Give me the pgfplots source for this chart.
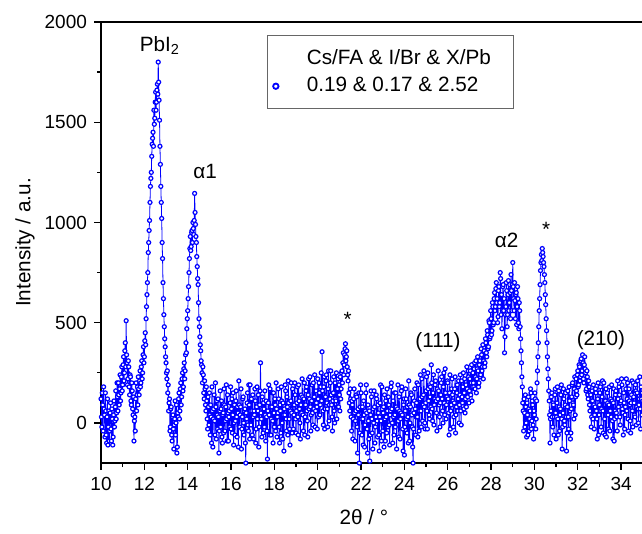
\documentclass[border=0pt]{standalone}
\usepackage{pgfplots}
\pgfplotsset{compat=1.18}
\usepackage{fontspec}
\setmainfont{Liberation Sans}
\newcommand{\lbl}{\fontsize{10.35}{12}\selectfont}
\newcommand{\tkf}{\fontsize{9.5}{11}\selectfont}
\begin{document}
\begin{tikzpicture}
\begin{axis}[
  name=ax,
  scale only axis,
  width=270.85pt, height=220.5pt,
  xmin=10, xmax=35, ymin=-200, ymax=2000,
  xtick={10,12,...,34}, ytick={0,500,...,2000},
  minor x tick num=1, minor y tick num=1,
  tick align=outside, xtick pos=bottom, ytick pos=left,
  major tick length=3.5pt, minor tick length=2pt,
  every tick/.style={black, line width=0.65pt},
  axis line style={line width=0.7pt},
  tick label style={font=\tkf},
  /pgf/number format/assume math mode=true,
  /pgf/number format/1000 sep={},
  xlabel={2θ / °}, ylabel={Intensity / a.u.},
  label style={font=\lbl},
  xlabel style={at={(axis description cs:0.485,-0.1224)}, anchor=center},
  ylabel style={at={(axis description cs:-0.1403,0.5)}, anchor=center},
  legend cell align=left,
  legend image code/.code={\path[draw=none,fill=none] (0pt,-2pt) rectangle (8pt,2pt); \draw[#1] plot coordinates {(4pt,0pt)};},
  legend style={at={(axis description cs:0.307,0.9705)}, anchor=north west,
    draw=black!60, line width=0.5pt, font=\lbl, inner xsep=0pt, inner ysep=5pt,
    row sep=1pt, /tikz/every odd column/.append style={column sep=9.5pt}},
]
\addlegendimage{empty legend}
\addlegendentry{Cs/FA \& I/Br \& X/Pb\hspace{9.5pt}\null}
\addplot[blue, line width=0.4pt, mark=*, mark size=1.0pt, forget plot,
  mark options={draw=blue, fill=white, line width=0.6pt}] coordinates {
(10.00,120) (10.02,30) (10.04,-20) (10.06,150) (10.08,90) (10.10,-40) (10.12,180) (10.14,70) (10.16,40) (10.18,-70)
(10.20,150) (10.22,60) (10.24,-60) (10.26,-100) (10.28,30) (10.30,120) (10.32,-110) (10.34,-20) (10.36,60) (10.38,-90)
(10.40,-40) (10.42,50) (10.44,100) (10.46,-30) (10.48,-90) (10.50,70) (10.52,20) (10.54,-110) (10.56,-70) (10.58,40)
(10.60,110) (10.62,-20) (10.64,10) (10.66,80) (10.68,160) (10.70,20) (10.72,50) (10.74,200) (10.76,130) (10.78,60)
(10.80,200) (10.82,140) (10.84,90) (10.86,170) (10.88,240) (10.90,110) (10.92,150) (10.94,230) (10.96,280) (10.98,160)
(11.00,190) (11.02,290) (11.04,330) (11.06,210) (11.08,250) (11.10,360) (11.12,400) (11.14,280) (11.16,510) (11.18,340)
(11.20,300) (11.22,190) (11.24,220) (11.26,310) (11.28,280) (11.30,180) (11.32,140) (11.34,240) (11.36,230) (11.38,110)
(11.40,90) (11.42,200) (11.44,160) (11.46,70) (11.48,40) (11.50,130) (11.52,-90) (11.54,10) (11.56,30) (11.58,-40)
(11.60,120) (11.62,200) (11.64,60) (11.66,140) (11.68,180) (11.70,90) (11.72,230) (11.74,170) (11.76,140) (11.78,210)
(11.80,260) (11.82,180) (11.84,200) (11.86,280) (11.88,310) (11.90,220) (11.92,250) (11.94,340) (11.96,380) (11.98,300)
(12.00,330) (12.02,410) (12.04,450) (12.06,390) (12.08,520) (12.10,580) (12.12,640) (12.14,700) (12.16,750) (12.18,850)
(12.20,900) (12.22,960) (12.24,1010) (12.26,1100) (12.28,1180) (12.30,1220) (12.32,1250) (12.34,1330) (12.36,1390) (12.38,1420)
(12.40,1450) (12.42,1380) (12.44,1560) (12.46,1490) (12.48,1520) (12.50,1600) (12.52,1650) (12.54,1560) (12.56,1600) (12.58,1660)
(12.60,1690) (12.62,1640) (12.64,1800) (12.66,1700) (12.68,1610) (12.70,1510) (12.72,1380) (12.74,1290) (12.76,1180) (12.78,1100)
(12.80,1020) (12.82,900) (12.84,820) (12.86,700) (12.88,620) (12.90,540) (12.92,480) (12.94,420) (12.96,380) (12.98,330)
(13.00,300) (13.02,250) (13.04,220) (13.06,260) (13.08,150) (13.10,190) (13.12,60) (13.14,100) (13.16,120) (13.18,-40)
(13.20,-20) (13.22,70) (13.24,80) (13.26,-60) (13.28,-90) (13.30,30) (13.32,40) (13.34,-30) (13.36,-130) (13.38,-10)
(13.40,20) (13.42,110) (13.44,-60) (13.46,0) (13.48,90) (13.50,-150) (13.52,-120) (13.54,50) (13.56,30) (13.58,120)
(13.60,150) (13.62,20) (13.64,60) (13.66,170) (13.68,200) (13.70,90) (13.72,130) (13.74,220) (13.76,250) (13.78,160)
(13.80,180) (13.82,270) (13.84,300) (13.86,220) (13.88,260) (13.90,340) (13.92,400) (13.94,350) (13.96,470) (13.98,520)
(14.00,560) (14.02,620) (14.04,680) (14.06,750) (14.08,820) (14.10,870) (14.12,930) (14.14,860) (14.16,880) (14.18,950)
(14.20,960) (14.22,900) (14.24,1000) (14.26,970) (14.28,940) (14.30,1010) (14.32,1145) (14.34,1050) (14.36,990) (14.38,930)
(14.40,900) (14.42,830) (14.44,780) (14.46,720) (14.48,690) (14.50,600) (14.52,520) (14.54,480) (14.56,430) (14.58,390)
(14.60,360) (14.62,310) (14.64,290) (14.66,250) (14.68,200) (14.70,280) (14.72,240) (14.74,150) (14.76,120) (14.78,210)
(14.80,170) (14.82,90) (14.84,60) (14.86,180) (14.88,110) (14.90,20) (14.92,-30) (14.94,130) (14.96,80) (14.98,-10)
(15.00,150) (15.02,40) (15.04,-60) (15.06,90) (15.08,30) (15.10,-100) (15.12,180) (15.14,60) (15.16,-120) (15.18,20)
(15.20,70) (15.22,140) (15.24,10) (15.26,-60) (15.28,200) (15.30,80) (15.32,-80) (15.34,110) (15.36,40) (15.38,-30)
(15.40,120) (15.42,30) (15.44,-150) (15.46,-40) (15.48,60) (15.50,160) (15.52,-20) (15.54,70) (15.56,110) (15.58,-70)
(15.60,-100) (15.62,40) (15.64,50) (15.66,-50) (15.68,170) (15.70,90) (15.72,-40) (15.74,10) (15.76,80) (15.78,190)
(15.80,20) (15.82,-90) (15.84,140) (15.86,50) (15.88,-90) (15.90,30) (15.92,60) (15.94,-20) (15.96,100) (15.98,180)
(16.00,-30) (16.02,70) (16.04,120) (16.06,-50) (16.08,40) (16.10,150) (16.12,-110) (16.14,0) (16.16,90) (16.18,-60)
(16.20,10) (16.22,110) (16.24,160) (16.26,30) (16.28,-70) (16.30,80) (16.32,50) (16.34,-120) (16.36,210) (16.38,90)
(16.40,-20) (16.42,40) (16.44,80) (16.46,170) (16.48,-130) (16.50,-30) (16.52,30) (16.54,120) (16.56,130) (16.58,0)
(16.60,-60) (16.62,60) (16.64,70) (16.66,-100) (16.68,-200) (16.70,50) (16.72,20) (16.74,100) (16.76,150) (16.78,-10)
(16.80,-40) (16.82,190) (16.84,90) (16.86,-80) (16.88,190) (16.90,60) (16.92,-10) (16.94,120) (16.96,60) (16.98,-60)
(17.00,140) (17.02,30) (17.04,-80) (17.06,60) (17.08,40) (17.10,170) (17.12,110) (17.14,-100) (17.16,-30) (17.18,80)
(17.20,180) (17.22,20) (17.24,60) (17.26,140) (17.28,-120) (17.30,-20) (17.32,90) (17.34,160) (17.36,300) (17.38,50)
(17.40,20) (17.42,-70) (17.44,130) (17.46,70) (17.48,-50) (17.50,100) (17.52,70) (17.54,-20) (17.56,160) (17.58,40)
(17.60,-90) (17.62,110) (17.64,30) (17.66,-40) (17.68,-180) (17.70,60) (17.72,100) (17.74,190) (17.76,40) (17.78,-60)
(17.80,170) (17.82,80) (17.84,-60) (17.86,20) (17.88,80) (17.90,150) (17.92,10) (17.94,-100) (17.96,150) (17.98,50)
(18.00,-20) (18.02,120) (18.04,90) (18.06,-40) (18.08,200) (18.10,70) (18.12,-70) (18.14,30) (18.16,50) (18.18,170)
(18.20,120) (18.22,-20) (18.24,-100) (18.26,90) (18.28,60) (18.30,-50) (18.32,180) (18.34,110) (18.36,0) (18.38,-80)
(18.40,100) (18.42,40) (18.44,-140) (18.46,70) (18.48,40) (18.50,190) (18.52,160) (18.54,20) (18.56,-40) (18.58,130)
(18.60,80) (18.62,-60) (18.64,210) (18.66,100) (18.68,20) (18.70,-30) (18.72,-110) (18.74,60) (18.76,110) (18.78,200)
(18.80,50) (18.82,-50) (18.84,170) (18.86,90) (18.88,-30) (18.90,40) (18.92,90) (18.94,200) (18.96,140) (18.98,20)
(19.00,-50) (19.02,60) (19.04,100) (19.06,180) (19.08,30) (19.10,-60) (19.12,190) (19.14,110) (19.16,70) (19.18,0)
(19.20,-80) (19.22,90) (19.24,140) (19.26,50) (19.28,220) (19.30,130) (19.32,40) (19.34,-40) (19.36,120) (19.38,200)
(19.40,-60) (19.42,30) (19.44,90) (19.46,160) (19.48,180) (19.50,60) (19.52,10) (19.54,-70) (19.56,140) (19.58,220)
(19.60,70) (19.62,120) (19.64,230) (19.66,80) (19.68,-40) (19.70,40) (19.72,110) (19.74,190) (19.76,50) (19.78,-10)
(19.80,200) (19.82,70) (19.84,130) (19.86,240) (19.88,-20) (19.90,60) (19.92,160) (19.94,100) (19.96,80) (19.98,-30)
(20.00,220) (20.02,120) (20.04,30) (20.06,200) (20.08,150) (20.10,40) (20.12,90) (20.14,180) (20.16,250) (20.18,110)
(20.20,355) (20.22,160) (20.24,60) (20.26,-10) (20.28,180) (20.30,230) (20.32,-30) (20.34,70) (20.36,130) (20.38,210)
(20.40,240) (20.42,100) (20.44,70) (20.46,-20) (20.48,170) (20.50,260) (20.52,10) (20.54,90) (20.56,120) (20.58,200)
(20.60,260) (20.62,140) (20.64,90) (20.66,30) (20.68,-40) (20.70,110) (20.72,150) (20.74,230) (20.76,60) (20.78,0)
(20.80,200) (20.82,120) (20.84,110) (20.86,250) (20.88,20) (20.90,80) (20.92,170) (20.94,220) (20.96,80) (20.98,190)
(21.00,140) (21.02,60) (21.04,230) (21.06,120) (21.08,170) (21.10,250) (21.12,260) (21.14,200) (21.16,300) (21.18,350)
(21.20,240) (21.22,290) (21.24,340) (21.26,370) (21.28,395) (21.30,310) (21.32,330) (21.34,360) (21.36,280) (21.38,240)
(21.40,210) (21.42,260) (21.44,150) (21.46,100) (21.48,60) (21.50,170) (21.52,120) (21.54,30) (21.56,-40) (21.58,110)
(21.60,90) (21.62,-80) (21.64,20) (21.66,120) (21.68,170) (21.70,50) (21.72,-90) (21.74,10) (21.76,60) (21.78,140)
(21.80,130) (21.82,-20) (21.84,-150) (21.86,70) (21.88,40) (21.90,150) (21.92,-200) (21.94,-50) (21.96,80) (21.98,190)
(22.00,150) (22.02,20) (22.04,-60) (22.06,80) (22.08,20) (22.10,-110) (22.12,110) (22.14,40) (22.16,-120) (22.18,-10)
(22.20,60) (22.22,150) (22.24,190) (22.26,50) (22.28,-30) (22.30,-150) (22.32,90) (22.34,10) (22.36,-80) (22.38,60)
(22.40,-190) (22.42,-60) (22.44,40) (22.46,160) (22.48,130) (22.50,20) (22.52,-50) (22.54,-130) (22.56,70) (22.58,0)
(22.60,160) (22.62,80) (22.64,-100) (22.66,-20) (22.68,30) (22.70,140) (22.72,120) (22.74,10) (22.76,-70) (22.78,90)
(22.80,50) (22.82,-60) (22.84,-140) (22.86,30) (22.88,100) (22.90,190) (22.92,10) (22.94,-90) (22.96,180) (22.98,70)
(23.00,-40) (23.02,50) (23.04,80) (23.06,-120) (23.08,140) (23.10,20) (23.12,-90) (23.14,110) (23.16,30) (23.18,-50)
(23.20,170) (23.22,60) (23.24,-20) (23.26,130) (23.28,90) (23.30,-10) (23.32,-110) (23.34,40) (23.36,60) (23.38,180)
(23.40,200) (23.42,70) (23.44,0) (23.46,-100) (23.48,110) (23.50,30) (23.52,-60) (23.54,150) (23.56,40) (23.58,-20)
(23.60,150) (23.62,80) (23.64,-130) (23.66,10) (23.68,70) (23.70,190) (23.72,10) (23.74,-70) (23.76,130) (23.78,60)
(23.80,-80) (23.82,20) (23.84,50) (23.86,160) (23.88,180) (23.90,40) (23.92,-30) (23.94,-140) (23.96,90) (23.98,120)
(24.00,-160) (24.02,-20) (24.04,60) (24.06,170) (24.08,120) (24.10,20) (24.12,-50) (24.14,80) (24.16,30) (24.18,-100)
(24.20,210) (24.22,90) (24.24,-90) (24.26,0) (24.28,80) (24.30,150) (24.32,140) (24.34,40) (24.36,-20) (24.38,-120)
(24.40,-200) (24.42,-30) (24.44,50) (24.46,110) (24.48,170) (24.50,70) (24.52,-60) (24.54,30) (24.56,100) (24.58,200)
(24.60,30) (24.62,-70) (24.64,190) (24.66,120) (24.68,-40) (24.70,60) (24.72,120) (24.74,240) (24.76,60) (24.78,-20)
(24.80,220) (24.82,130) (24.84,10) (24.86,90) (24.88,140) (24.90,260) (24.92,80) (24.94,0) (24.96,-30) (24.98,100)
(25.00,160) (25.02,230) (25.04,60) (25.06,-30) (25.08,250) (25.10,170) (25.12,110) (25.14,40) (25.16,20) (25.18,130)
(25.20,180) (25.22,80) (25.24,290) (25.26,200) (25.28,70) (25.30,10) (25.32,150) (25.34,240) (25.36,-10) (25.38,90)
(25.40,120) (25.42,190) (25.44,210) (25.46,110) (25.48,50) (25.50,-40) (25.52,170) (25.54,120) (25.56,260) (25.58,160)
(25.60,90) (25.62,30) (25.64,-20) (25.66,100) (25.68,140) (25.70,200) (25.72,230) (25.74,120) (25.76,60) (25.78,0)
(25.80,180) (25.82,250) (25.84,100) (25.86,40) (25.88,270) (25.90,150) (25.92,20) (25.94,90) (25.96,130) (25.98,210)
(26.00,200) (26.02,120) (26.04,50) (26.06,-60) (26.08,150) (26.10,240) (26.12,-30) (26.14,60) (26.16,90) (26.18,170)
(26.20,220) (26.22,140) (26.24,110) (26.26,-20) (26.28,30) (26.30,100) (26.32,170) (26.34,230) (26.36,-50) (26.38,40)
(26.40,80) (26.42,150) (26.44,190) (26.46,60) (26.48,120) (26.50,210) (26.52,0) (26.54,90) (26.56,140) (26.58,240)
(26.60,60) (26.62,-10) (26.64,210) (26.66,130) (26.68,100) (26.70,180) (26.72,250) (26.74,70) (26.76,150) (26.78,220)
(26.80,50) (26.82,120) (26.84,190) (26.86,80) (26.88,280) (26.90,170) (26.92,130) (26.94,260) (26.96,230) (26.98,100)
(27.00,160) (27.02,220) (27.04,260) (27.06,140) (27.08,200) (27.10,290) (27.12,110) (27.14,180) (27.16,250) (27.18,200)
(27.20,180) (27.22,270) (27.24,300) (27.26,170) (27.28,230) (27.30,310) (27.32,150) (27.34,220) (27.36,270) (27.38,330)
(27.40,260) (27.42,180) (27.44,200) (27.46,290) (27.48,310) (27.50,230) (27.52,240) (27.54,370) (27.56,340) (27.58,260)
(27.60,280) (27.62,390) (27.64,220) (27.66,310) (27.68,360) (27.70,280) (27.72,300) (27.74,420) (27.76,400) (27.78,350)
(27.80,330) (27.82,460) (27.84,440) (27.86,370) (27.88,380) (27.90,510) (27.92,500) (27.94,420) (27.96,430) (27.98,560)
(28.00,520) (28.02,440) (28.04,460) (28.06,600) (28.08,580) (28.10,490) (28.12,500) (28.14,620) (28.16,650) (28.18,560)
(28.20,580) (28.22,670) (28.24,700) (28.26,600) (28.28,620) (28.30,500) (28.32,530) (28.34,660) (28.36,680) (28.38,580)
(28.40,600) (28.42,750) (28.44,720) (28.46,540) (28.48,640) (28.50,470) (28.52,560) (28.54,680) (28.56,690) (28.58,560)
(28.60,620) (28.62,350) (28.64,430) (28.66,540) (28.68,580) (28.70,700) (28.72,660) (28.74,480) (28.76,540) (28.78,640)
(28.80,710) (28.82,560) (28.84,600) (28.86,690) (28.88,650) (28.90,520) (28.92,740) (28.94,660) (28.96,560) (28.98,690)
(29.00,800) (29.02,680) (29.04,620) (29.06,560) (29.08,700) (29.10,610) (29.12,520) (29.14,640) (29.16,650) (29.18,490)
(29.20,580) (29.22,680) (29.24,620) (29.26,500) (29.28,470) (29.30,600) (29.32,560) (29.34,480) (29.36,420) (29.38,360)
(29.40,300) (29.42,230) (29.44,180) (29.46,100) (29.48,60) (29.50,-40) (29.52,120) (29.54,50) (29.56,-20) (29.58,140)
(29.60,80) (29.62,0) (29.64,-70) (29.66,100) (29.68,40) (29.70,-60) (29.72,130) (29.74,70) (29.76,-40) (29.78,20)
(29.80,60) (29.82,170) (29.84,150) (29.86,-30) (29.88,10) (29.90,110) (29.92,90) (29.94,-10) (29.96,-80) (29.98,60)
(30.00,40) (30.02,150) (30.04,120) (30.06,-30) (30.08,20) (30.10,110) (30.12,200) (30.14,260) (30.16,330) (30.18,400)
(30.20,480) (30.22,560) (30.24,620) (30.26,690) (30.28,760) (30.30,800) (30.32,840) (30.34,810) (30.36,870) (30.38,850)
(30.40,830) (30.42,800) (30.44,780) (30.46,740) (30.48,700) (30.50,640) (30.52,590) (30.54,520) (30.56,460) (30.58,400)
(30.60,330) (30.62,270) (30.64,220) (30.66,160) (30.68,110) (30.70,40) (30.72,-100) (30.74,20) (30.76,60) (30.78,130)
(30.80,150) (30.82,30) (30.84,-20) (30.86,100) (30.88,90) (30.90,-60) (30.92,30) (30.94,140) (30.96,170) (30.98,50)
(31.00,-80) (31.02,30) (31.04,100) (31.06,180) (31.08,20) (31.10,-60) (31.12,160) (31.14,80) (31.16,-40) (31.18,40)
(31.20,70) (31.22,140) (31.24,190) (31.26,20) (31.28,-130) (31.30,-20) (31.32,50) (31.34,170) (31.36,120) (31.38,10)
(31.40,-10) (31.42,90) (31.44,150) (31.46,30) (31.48,-140) (31.50,-50) (31.52,80) (31.54,160) (31.56,30) (31.58,-30)
(31.60,180) (31.62,110) (31.64,60) (31.66,-80) (31.68,-50) (31.70,70) (31.72,130) (31.74,190) (31.76,200) (31.78,100)
(31.80,90) (31.82,20) (31.84,170) (31.86,230) (31.88,40) (31.90,130) (31.92,220) (31.94,160) (31.96,140) (31.98,240)
(32.00,260) (32.02,180) (32.04,190) (32.06,290) (32.08,280) (32.10,210) (32.12,230) (32.14,310) (32.16,320) (32.18,240)
(32.20,260) (32.22,340) (32.24,300) (32.26,220) (32.28,200) (32.30,290) (32.32,330) (32.34,270) (32.36,250) (32.38,160)
(32.40,170) (32.42,260) (32.44,230) (32.46,140) (32.48,120) (32.50,210) (32.52,180) (32.54,90) (32.56,60) (32.58,150)
(32.60,140) (32.62,-20) (32.64,30) (32.66,160) (32.68,110) (32.70,20) (32.72,190) (32.74,90) (32.76,-30) (32.78,40)
(32.80,80) (32.82,170) (32.84,150) (32.86,60) (32.88,20) (32.90,-80) (32.92,120) (32.94,200) (32.96,-60) (32.98,40)
(33.00,90) (33.02,150) (33.04,180) (33.06,60) (33.08,-20) (33.10,70) (33.12,130) (33.14,210) (33.16,60) (33.18,-50)
(33.20,200) (33.22,110) (33.24,20) (33.26,-60) (33.28,110) (33.30,170) (33.32,-70) (33.34,40) (33.36,150) (33.38,100)
(33.40,40) (33.42,-30) (33.44,90) (33.46,180) (33.48,-40) (33.50,60) (33.52,120) (33.54,30) (33.56,190) (33.58,110)
(33.60,10) (33.62,-80) (33.64,100) (33.66,170) (33.68,-90) (33.70,20) (33.72,60) (33.74,140) (33.76,160) (33.78,50)
(33.80,30) (33.82,-40) (33.84,210) (33.86,120) (33.88,80) (33.90,180) (33.92,140) (33.94,30) (33.96,-10) (33.98,100)
(34.00,110) (34.02,220) (34.04,190) (34.06,70) (34.08,50) (34.10,-60) (34.12,150) (34.14,100) (34.16,-30) (34.18,40)
(34.20,80) (34.22,170) (34.24,220) (34.26,60) (34.28,120) (34.30,200) (34.32,20) (34.34,-40) (34.36,170) (34.38,110)
(34.40,90) (34.42,10) (34.44,-50) (34.46,100) (34.48,140) (34.50,210) (34.52,60) (34.54,-20) (34.56,200) (34.58,130)
(34.60,100) (34.62,40) (34.64,30) (34.66,190) (34.68,160) (34.70,-10) (34.72,80) (34.74,150) (34.76,210) (34.78,70)
(34.80,0) (34.82,90) (34.84,120) (34.86,230) (34.88,70) (34.90,-30) (34.92,180) (34.94,120) (34.96,40) (34.98,150)
(35.00,110)
};
\addlegendimage{only marks, mark=*, mark size=1.35pt, mark options={draw=blue, fill=white, line width=0.9pt}}
\addlegendentry{0.19 \& 0.17 \& 2.52}
\node[font=\lbl, anchor=base] at (axis cs:12.72,1855) {PbI\textsubscript{2}};
\node[font=\lbl, anchor=base] at (axis cs:14.80,1220) {α1};
\node[font=\lbl, anchor=base] at (axis cs:21.38,481) {*};
\node[font=\lbl, anchor=base] at (axis cs:25.55,376) {(111)};
\node[font=\lbl, anchor=base] at (axis cs:28.72,875) {α2};
\node[font=\lbl, anchor=base] at (axis cs:30.54,932) {*};
\node[font=\lbl, anchor=base] at (axis cs:33.07,386) {(210)};
\end{axis}
\pgfresetboundingbox
\path[use as bounding box] ([xshift=-50.5pt,yshift=-35pt]ax.south west) rectangle ([xshift=-0.4pt,yshift=11pt]ax.north east);
\end{tikzpicture}
\end{document}
